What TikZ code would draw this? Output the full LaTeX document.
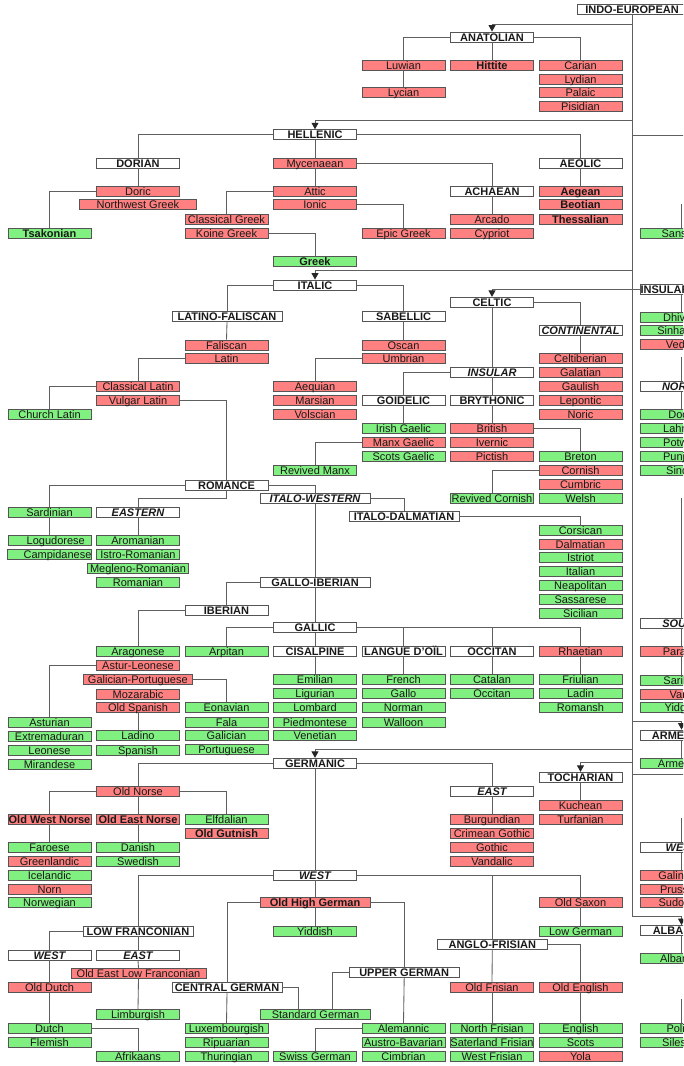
\documentclass[tikz,border=0pt]{standalone}
\usepackage{fontspec}
\setmainfont{Liberation Sans}
\usetikzlibrary{arrows.meta}
\definecolor{rfill}{RGB}{255,128,128}
\definecolor{gfill}{RGB}{128,240,128}
\definecolor{bcol}{RGB}{85,85,85}
\definecolor{lcol}{RGB}{95,95,95}
\definecolor{tcol}{RGB}{25,25,25}
\begin{document}
\begin{tikzpicture}[x=1pt,y=-1pt,
 lang/.style={draw=bcol, line width=0.9pt, minimum width=83pt, minimum height=10pt, inner sep=0pt, text height=8.6pt, text depth=0.6pt, font=\fontsize{11}{11}\selectfont, text=tcol},
 ext/.style={lang, fill=rfill},
 liv/.style={lang, fill=gfill},
 grp/.style={lang, fill=white, font=\fontsize{11}{11}\selectfont\bfseries},
 igrp/.style={lang, fill=white, font=\fontsize{11}{11}\selectfont\bfseries\itshape},
 bld/.style={font=\fontsize{11}{11}\selectfont\bfseries},
 wide/.style={minimum width=110pt},
 conn/.style={draw=lcol, line width=0.85pt},
 arr/.style={conn, -{Triangle[width=7pt,length=6.5pt,color=black!85]}}
]
\useasboundingbox (0,0) rectangle (683,1066);
\clip (0,0) rectangle (683,1066);
\fill[white] (0,0) rectangle (683,1066);

% ---------- nodes ----------
\node[grp,wide] (ie) at (632,9.5) {INDO-EUROPEAN};
\node[grp] (anat) at (492,37) {ANATOLIAN};
\node[ext] (luw) at (403.5,65) {Luwian};
\node[ext,bld] (hit) at (492,65) {Hittite};
\node[ext] (car) at (580.5,65) {Carian};
\node[ext] (lyd) at (580.5,79) {Lydian};
\node[ext] (lyc) at (403.5,92.8) {Lycian};
\node[ext] (pal) at (580.5,92.8) {Palaic};
\node[ext] (pis) at (580.5,106.8) {Pisidian};

\node[grp] (hel) at (315,134.7) {HELLENIC};
\node[grp] (dor) at (138,163) {DORIAN};
\node[ext] (myc) at (315,163) {Mycenaean};
\node[grp] (aeo) at (580.5,163) {AEOLIC};
\node[ext] (doric) at (138,191) {Doric};
\node[ext] (att) at (315,191) {Attic};
\node[grp] (ach) at (492,191) {ACHAEAN};
\node[ext,bld] (aeg) at (580.5,191) {Aegean};
\node[ext,minimum width=117.5pt] (nwg) at (137.9,204.7) {Northwest Greek};
\node[ext] (ion) at (315,204.7) {Ionic};
\node[ext,bld] (beo) at (580.5,204.7) {Beotian};
\node[ext] (clg) at (226.5,219) {Classical Greek};
\node[ext] (arc) at (492,219) {Arcado};
\node[ext,bld] (the) at (580.5,219) {Thessalian};
\node[liv,bld] (tsa) at (49.5,233) {Tsakonian};
\node[ext] (koi) at (226.5,233) {Koine Greek};
\node[ext] (epi) at (403.5,233) {Epic Greek};
\node[ext] (cyp) at (492,233) {Cypriot};
\node[liv] (san) at (681.5,233) {Sanskrit};
\node[liv,bld] (grk) at (315,261) {Greek};

\node[grp] (ita) at (315,285) {ITALIC};
\node[grp] (insind) at (681.5,289) {INSULAR INDIC};
\node[grp] (cel) at (492,302.3) {CELTIC};
\node[grp,wide] (latfal) at (227,316.7) {LATINO-FALISCAN};
\node[grp] (sab) at (403.5,316.7) {SABELLIC};
\node[liv] (dhi) at (681.5,317) {Dhivehi};
\node[igrp] (cont) at (580.5,330.5) {CONTINENTAL};
\node[liv] (sinh) at (681.5,330.7) {Sinhalese};
\node[ext] (fal) at (226.5,345) {Faliscan};
\node[ext] (osc) at (403.5,345) {Oscan};
\node[ext] (ved) at (681.5,344.7) {Vedda};
\node[ext] (lat) at (226.5,358.3) {Latin};
\node[ext] (umb) at (403.5,358.3) {Umbrian};
\node[ext] (celt) at (580.5,358.3) {Celtiberian};
\node[igrp] (ins) at (492,372.3) {INSULAR};
\node[ext] (gal) at (580.5,372.3) {Galatian};
\node[ext] (cll) at (138,386.7) {Classical Latin};
\node[ext] (aeq) at (315,386.7) {Aequian};
\node[ext] (gau) at (580.5,386.5) {Gaulish};
\node[igrp] (nor) at (681.5,386.5) {NORTH};
\node[ext] (vul) at (138,400.7) {Vulgar Latin};
\node[ext] (mar) at (315,400.7) {Marsian};
\node[grp] (goi) at (403.5,400.7) {GOIDELIC};
\node[grp] (bry) at (492,400.7) {BRYTHONIC};
\node[ext] (lep) at (580.5,400.6) {Lepontic};
\node[liv] (chl) at (49.5,414.3) {Church Latin};
\node[ext] (vol) at (315,414.3) {Volscian};
\node[ext] (nrc) at (580.5,414.5) {Noric};
\node[liv] (dog) at (681.5,414.5) {Dogri};
\node[liv] (iri) at (403.5,428.7) {Irish Gaelic};
\node[ext] (bri) at (492,428.7) {British};
\node[liv] (lah) at (681.5,428.5) {Lahnda};
\node[ext] (manx) at (403.5,442.3) {Manx Gaelic};
\node[ext] (ive) at (492,442.3) {Ivernic};
\node[liv] (pot) at (681.5,442.3) {Potwari};
\node[liv] (sco) at (403.5,456.7) {Scots Gaelic};
\node[ext] (pic) at (492,456.7) {Pictish};
\node[liv] (bre) at (580.5,456.7) {Breton};
\node[liv] (pun) at (681.5,456.5) {Punjabi};
\node[liv] (rmx) at (315,470.2) {Revived Manx};
\node[ext] (cor) at (580.5,470.2) {Cornish};
\node[liv] (sin) at (681.5,470) {Sindhi};
\node[grp] (rom) at (226.5,485) {ROMANCE};
\node[ext] (cum) at (580.5,484.3) {Cumbric};
\node[igrp,wide] (itw) at (315,498.3) {ITALO-WESTERN};
\node[liv] (rcor) at (492,498.3) {Revived Cornish};
\node[liv] (wel) at (580.5,498.3) {Welsh};
\node[liv] (sar) at (49.5,512.3) {Sardinian};
\node[igrp] (eas) at (138,512.3) {EASTERN};
\node[grp,wide] (itd) at (404,516) {ITALO-DALMATIAN};
\node[liv] (cors) at (580.5,530) {Corsican};
\node[liv] (log) at (49.5,540) {\hspace*{12.6pt}Logudorese};
\node[liv] (aro) at (138,540) {Aromanian};
\node[ext] (dal) at (580.5,544) {Dalmatian};
\node[liv] (cam) at (49.5,554.3) {\hspace*{16pt}Campidanese};
\node[liv] (ist) at (138,554.3) {Istro-Romanian};
\node[liv] (istr) at (580.5,557.7) {Istriot};
\node[liv,minimum width=100.5pt] (meg) at (138,568) {Megleno-Romanian};
\node[liv] (itl) at (580.5,571.5) {Italian};
\node[liv] (rmn) at (138,582.3) {Romanian};
\node[grp,wide] (gib) at (315,582.3) {GALLO-IBERIAN};
\node[liv] (nea) at (580.5,585.2) {Neapolitan};
\node[liv] (sas) at (580.5,599.3) {Sassarese};
\node[grp] (ibe) at (226.5,610) {IBERIAN};
\node[liv] (sic) at (580.5,613.3) {Sicilian};
\node[igrp] (sou) at (681.5,623) {SOUTH};
\node[grp] (gll) at (315,627.3) {GALLIC};
\node[liv] (ara) at (138,651.7) {Aragonese};
\node[liv] (arp) at (226.5,651.7) {Arpitan};
\node[grp] (cis) at (315,651.7) {CISALPINE};
\node[grp] (oil) at (403.5,651.7) {LANGUE D'OÏL};
\node[grp] (occ) at (492,651.7) {OCCITAN};
\node[ext] (rha) at (580.5,651.7) {Rhaetian};
\node[ext] (par) at (681.5,651.7) {Parachi};
\node[ext] (ast) at (138,665.8) {Astur-Leonese};
\node[ext,minimum width=109pt] (gpo) at (137.8,679.7) {Galician-Portuguese};
\node[liv] (emi) at (315,679.5) {Emilian};
\node[liv] (fre) at (403.5,679.5) {French};
\node[liv] (cat) at (492,679.5) {Catalan};
\node[liv] (fri) at (580.5,679.5) {Friulian};
\node[liv] (sari) at (681.5,680) {Sarikoli};
\node[ext] (moz) at (138,694) {Mozarabic};
\node[liv] (lig) at (315,693.8) {Ligurian};
\node[liv] (gallo) at (403.5,693.8) {Gallo};
\node[liv] (oc) at (492,693.8) {Occitan};
\node[liv] (lad) at (580.5,693.8) {Ladin};
\node[ext] (van) at (681.5,694) {Vanji};
\node[ext] (osp) at (138,707.6) {Old Spanish};
\node[liv] (eon) at (226.5,707.6) {Eonavian};
\node[liv] (lom) at (315,707.7) {Lombard};
\node[liv] (norm) at (403.5,707.7) {Norman};
\node[liv] (rms) at (580.5,707.7) {Romansh};
\node[liv] (yid) at (681.5,707.7) {Yidgha};
\node[liv] (astu) at (49.5,722) {Asturian};
\node[liv] (fala) at (226.5,722) {Fala};
\node[liv] (pie) at (315,722) {Piedmontese};
\node[liv] (wal) at (403.5,722) {Walloon};
\node[liv] (extr) at (49.5,736) {Extremaduran};
\node[liv] (ladn) at (138,735.8) {Ladino};
\node[liv] (glc) at (226.5,735.8) {Galician};
\node[liv] (ven) at (315,735.7) {Venetian};
\node[grp] (arm) at (681.5,735) {ARMENIAN};
\node[liv] (leo) at (49.5,750) {Leonese};
\node[liv] (spa) at (138,750) {Spanish};
\node[liv] (por) at (226.5,749.7) {Portuguese};
\node[grp] (ger) at (315,763.3) {GERMANIC};
\node[liv] (mir) at (49.5,764) {Mirandese};
\node[liv] (armn) at (681.5,763) {Armenian};
\node[grp] (toc) at (580.5,777.3) {TOCHARIAN};
\node[ext] (onr) at (138,791.5) {Old Norse};
\node[igrp] (eastg) at (492,791) {EAST};
\node[ext] (kuc) at (580.5,805.3) {Kuchean};
\node[ext,bld] (own) at (49.5,819.3) {Old West Norse};
\node[ext,bld] (oen) at (138,819.3) {Old East Norse};
\node[liv] (elf) at (226.5,819.3) {Elfdalian};
\node[ext] (bur) at (492,819.3) {Burgundian};
\node[ext] (tur) at (580.5,819.3) {Turfanian};
\node[ext,bld] (ogu) at (226.5,833.3) {Old Gutnish};
\node[ext] (crg) at (492,833.2) {Crimean Gothic};
\node[liv] (far) at (49.5,847.5) {Faroese};
\node[liv] (dan) at (138,847.5) {Danish};
\node[ext] (got) at (492,847.3) {Gothic};
\node[igrp] (wbal) at (681.5,847.7) {WEST};
\node[ext] (grl) at (49.5,861.5) {Greenlandic};
\node[liv] (swe) at (138,861.5) {Swedish};
\node[ext] (vnd) at (492,861.5) {Vandalic};
\node[liv] (ice) at (49.5,875) {Icelandic};
\node[igrp] (westg) at (315,875) {WEST};
\node[ext] (gln) at (681.5,875) {Galindian};
\node[ext] (nrn) at (49.5,889) {Norn};
\node[ext] (pru) at (681.5,889) {Prussian};
\node[liv] (nwy) at (49.5,902.7) {Norwegian};
\node[ext,bld,wide] (ohg) at (315,902.7) {Old High German};
\node[ext] (osx) at (580.5,902.7) {Old Saxon};
\node[ext] (sud) at (681.5,902.7) {Sudovian};
\node[grp,wide] (lfr) at (138,931) {LOW FRANCONIAN};
\node[liv] (yidd) at (315,931) {Yiddish};
\node[liv] (lgr) at (580.5,931) {Low German};
\node[grp] (alb) at (681.5,930.5) {ALBANIAN};
\node[grp,wide] (afr) at (492.3,944.3) {ANGLO-FRISIAN};
\node[igrp] (wlf) at (49.5,955) {WEST};
\node[igrp] (elf2) at (138,955) {EAST};
\node[liv] (albn) at (681.5,958.7) {Albanian};
\node[ext,minimum width=135pt] (oelf) at (138.5,973.3) {Old East Low Franconian};
\node[grp,wide] (upg) at (404.2,972.3) {UPPER GERMAN};
\node[ext] (odu) at (49.5,987.3) {Old Dutch};
\node[grp,wide] (ceg) at (227,987.3) {CENTRAL GERMAN};
\node[ext] (ofr) at (492,987.3) {Old Frisian};
\node[ext] (oeng) at (580.5,987.3) {Old English};
\node[liv] (lim) at (138,1014.3) {Limburgish};
\node[liv,wide] (sgr) at (315.5,1014.3) {Standard German};
\node[liv] (dut) at (49.5,1028.7) {Dutch};
\node[liv] (lux) at (226.5,1028.7) {Luxembourgish};
\node[liv] (ale) at (403.5,1028.7) {Alemannic};
\node[liv] (nfr) at (492,1028.7) {North Frisian};
\node[liv] (eng) at (580.5,1028.7) {English};
\node[liv] (pol) at (681.5,1028.7) {Polish};
\node[liv] (fle) at (49.5,1042.6) {Flemish};
\node[liv] (rip) at (226.5,1042.6) {Ripuarian};
\node[liv] (aub) at (403.5,1042.6) {Austro-Bavarian};
\node[liv] (sfr) at (492,1042.6) {Saterland Frisian};
\node[liv] (scots) at (580.5,1042.6) {Scots};
\node[liv] (sil) at (681.5,1042.6) {Silesian};
\node[liv] (afk) at (138,1056.3) {Afrikaans};
\node[liv] (thu) at (226.5,1056.3) {Thuringian};
\node[liv] (swg) at (315,1056.3) {Swiss German};
\node[liv] (cim) at (403.5,1056.3) {Cimbrian};
\node[liv] (wfr) at (492,1056.3) {West Frisian};
\node[ext] (yol) at (580.5,1056.3) {Yola};

% ---------- trunk coordinates ----------
\coordinate (tAna) at (632,24);
\coordinate (tHel) at (632,120.7);
\coordinate (tR1) at (632,135);
\coordinate (eR1) at (690,135);
\coordinate (tIta) at (632,270.5);
\coordinate (tCel) at (632,289);
\coordinate (tArm) at (632,721.7);
\coordinate (tGer) at (632,749);
\coordinate (tToc) at (632,762.3);
\coordinate (tR2) at (632,774);
\coordinate (eR2) at (690,774);
\coordinate (tEnd) at (632,916.5);
\coordinate (vSan) at (681.5,204);
\coordinate (vNor) at (681.5,356.7);
\coordinate (vSou) at (681.5,498);
\coordinate (vWe) at (681.5,818);
\coordinate (vPol) at (681.5,999);

% ---------- connectors ----------
\draw[conn] (ie.south) -- (tEnd);
\draw[arr] (tAna) -| (anat.north);
\draw[arr] (tHel) -| (hel.north);
\draw[conn] (tR1) -- (eR1);
\draw[arr] (tIta) -| (ita.north);
\draw[arr] (tCel) -| (cel.north);
\draw[conn] (tCel) -- (insind.west);
\draw[arr] (tArm) -| (arm.north);
\draw[arr] (tGer) -| (ger.north);
\draw[arr] (tToc) -| (toc.north);
\draw[conn] (tR2) -- (eR2);
\draw[arr] (tEnd) -| (alb.north);

% right column
\draw[conn] (vSan) -- (san.north);
\draw[conn] (insind.south) -- (dhi.north);
\draw[conn] (vNor) -- (nor.north);
\draw[conn] (nor.south) -- (dog.north);
\draw[conn] (vSou) -- (sou.north);
\draw[conn] (sou.south) -- (par.north);
\draw[conn] (par.south) -- (sari.north);
\draw[conn] (arm.south) -- (armn.north);
\draw[conn] (vWe) -- (wbal.north);
\draw[conn] (wbal.south) -- (gln.north);
\draw[conn] (alb.south) -- (albn.north);
\draw[conn] (vPol) -- (pol.north);

% anatolian
\draw[conn] (anat.west) -| (luw.north);
\draw[conn] (anat.south) -- (hit.north);
\draw[conn] (anat.east) -| (car.north);
\draw[conn] (luw.south) -- (lyc.north);

% hellenic
\draw[conn] (hel.west) -| (dor.north);
\draw[conn] (hel.east) -| (aeo.north);
\draw[conn] (hel.south) -- (myc.north);
\draw[conn] (dor.south) -- (doric.north);
\draw[conn] (doric.west) -| (tsa.north);
\draw[conn] (myc.south) -- (att.north);
\draw[conn] (myc.east) -| (ach.north);
\draw[conn] (att.west) -| (clg.north);
\draw[conn] (koi.east) -| (grk.north);
\draw[conn] (ion.east) -| (epi.north);
\draw[conn] (ach.south) -- (arc.north);
\draw[conn] (aeo.south) -- (aeg.north);

% italic
\draw[conn] (ita.west) -| (latfal.north);
\draw[conn] (ita.east) -| (sab.north);
\draw[conn] (latfal.south) -- (fal.north);
\draw[conn] (sab.south) -- (osc.north);
\draw[conn] (lat.west) -| (cll.north);
\draw[conn] (cll.west) -| (chl.north);
\draw[conn] (vul.east) -| (rom.north);
\draw[conn] (umb.west) -| (aeq.north);

% celtic
\draw[conn] (cel.east) -| (cont.north);
\draw[conn] (cont.south) -- (celt.north);
\draw[conn] (cel.south) -- (ins.north);
\draw[conn] (ins.west) -| (goi.north);
\draw[conn] (ins.south) -- (bry.north);
\draw[conn] (bry.south) -- (bri.north);
\draw[conn] (bri.east) -| (bre.north);
\draw[conn] (cor.west) -| (rcor.north);
\draw[conn] (goi.south) -- (iri.north);
\draw[conn] (manx.west) -| (rmx.north);

% romance
\draw[conn] (rom.west) -| (sar.north);
\draw[conn] (sar.south) -- (log.north);
\draw[conn] (rom.south) -- ++(0,8.3) -| (eas.north);
\draw[conn] (eas.south) -- (aro.north);
\draw[conn] (rom.east) -| (itw.north);
\draw[conn] (itw.east) -| (itd.north);
\draw[conn] (itd.east) -| (cors.north);
\draw[conn] (itw.south) -- (gib.north);
\draw[conn] (gib.west) -| (ibe.north);
\draw[conn] (gib.south) -- (gll.north);
\draw[conn] (ibe.west) -| (ara.north);
\draw[conn] (gll.west) -| (arp.north);
\draw[conn] (gll.south) -- (cis.north);
\draw[conn] (gll.east) -| (oil.north);
\draw[conn] (gll.east) -| (occ.north);
\draw[conn] (gll.east) -| (rha.north);
\draw[conn] (ast.west) -| (astu.north);
\draw[conn] (gpo.east) -| (eon.north);
\draw[conn] (osp.south) -- (ladn.north);
\draw[conn] (cis.south) -- (emi.north);
\draw[conn] (oil.south) -- (fre.north);
\draw[conn] (occ.south) -- (cat.north);
\draw[conn] (rha.south) -- (fri.north);

% germanic
\draw[conn] (ger.west) -| (onr.north);
\draw[conn] (ger.east) -| (eastg.north);
\draw[conn] (ger.south) -- (westg.north);
\draw[conn] (toc.south) -- (kuc.north);
\draw[conn] (onr.west) -| (own.north);
\draw[conn] (onr.south) -- (oen.north);
\draw[conn] (onr.east) -| (elf.north);
\draw[conn] (own.south) -- (far.north);
\draw[conn] (oen.south) -- (dan.north);
\draw[conn] (eastg.south) -- (bur.north);
\draw[conn] (westg.west) -| (lfr.north);
\draw[conn] (westg.east) -| (osx.north);
\draw[conn] (westg.east) -| (afr.north);
\draw[conn] (westg.south) -- (ohg.north);
\draw[conn] (osx.south) -- (lgr.north);
\draw[conn] (ohg.south) -- (yidd.north);
\draw[conn] (ohg.west) -| (ceg.north);
\draw[conn] (ohg.east) -| (upg.north);
\draw[conn] (ceg.east) -| ([xshift=-17.5pt]sgr.north);
\draw[conn] (upg.west) -| ([xshift=16.5pt]sgr.north);
\draw[conn] (ceg.south) -- (lux.north);
\draw[conn] (upg.south) -- (ale.north);
\draw[conn] (ale.west) -| (swg.north);
\draw[conn] (lfr.west) -| (wlf.north);
\draw[conn] (lfr.south) -- (elf2.north);
\draw[conn] (elf2.south) -- (oelf.north);
\draw[conn] (oelf.south) -- (lim.north);
\draw[conn] (wlf.south) -- (odu.north);
\draw[conn] (odu.south) -- (dut.north);
\draw[conn] (dut.east) -| (afk.north);
\draw[conn] (afr.south) -- (ofr.north);
\draw[conn] (afr.east) -| (oeng.north);
\draw[conn] (ofr.south) -- (nfr.north);
\draw[conn] (oeng.south) -- (eng.north);
\end{tikzpicture}
\end{document}
